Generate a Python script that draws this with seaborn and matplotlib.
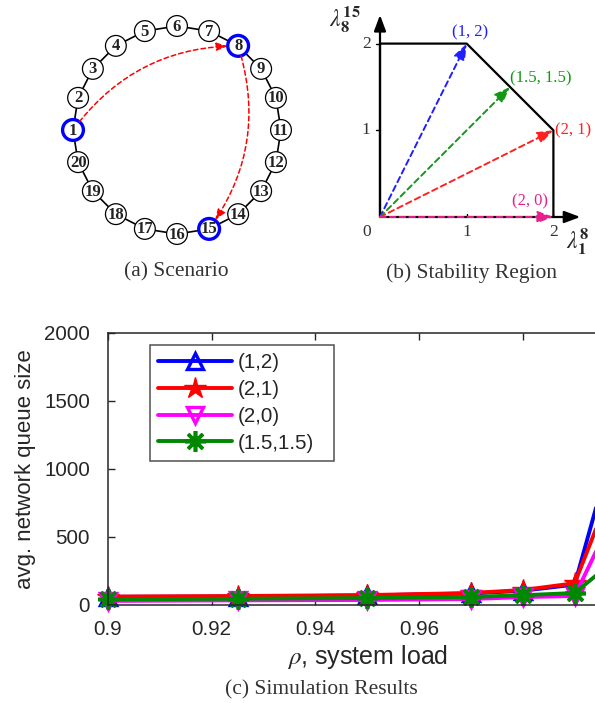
import numpy as np
import pandas as pd
import matplotlib
matplotlib.use('Agg')
import matplotlib.pyplot as plt
import seaborn as sns

# ---- data ----
n_nodes = 20
highlight_nodes = [1, 8, 15]
flow_path = [1, 8, 15]

region_x = [0, 0, 1, 2, 2]
region_y = [0, 2, 2, 1, 0]
rate_labels = ['(1, 2)', '(1.5, 1.5)', '(2, 1)', '(2, 0)']
rate_x = [1, 1.5, 2, 2]
rate_y = [2, 1.5, 1, 0]

rho = [0.9, 0.925, 0.95, 0.97, 0.98, 0.99, 1.0]
q_12 = [60, 62, 70, 85, 105, 150, 1520]
q_21 = [62, 66, 73, 88, 110, 160, 1130]
q_20 = [30, 34, 37, 44, 58, 66, 860]
q_1515 = [42, 46, 51, 59, 72, 88, 400]
series_names = ['(1,2)', '(2,1)', '(2,0)', '(1.5,1.5)']

sns.set_theme(style='white')
plt.rcParams['font.family'] = ['Liberation Sans', 'DejaVu Sans']
plt.rcParams['mathtext.fontset'] = 'stix'

fig = plt.figure(figsize=(5.95, 7.03), dpi=100)
serif = ['Liberation Serif', 'DejaVu Serif']

# ---- (a) scenario ring ----
ax_a = fig.add_axes([40 / 595, 1 - 260 / 703, 275 / 595, 260 / 703])
ax_a.set_xlim(-137 / 104, 138 / 104)
ax_a.set_ylim(-1.25, 1.25)
ax_a.axis('off')
ang = np.deg2rad(180 - 18 * np.arange(n_nodes))
nx, ny = np.cos(ang), np.sin(ang)
ax_a.plot(np.append(nx, nx[0]), np.append(ny, ny[0]), color='black', lw=1.2, zorder=1)
for i in range(n_nodes):
    node = i + 1
    hl = node in highlight_nodes
    c = plt.Circle((nx[i], ny[i]), 0.1, facecolor='white',
                   edgecolor='blue' if hl else 'black', lw=2.4 if hl else 0.9, zorder=2)
    ax_a.add_patch(c)
    ax_a.text(nx[i], ny[i] - 0.005, str(node), ha='center', va='center', fontsize=12,
              fontweight='bold', family=serif, zorder=3, color='#222222')
for s, t in zip(flow_path[:-1], flow_path[1:]):
    ax_a.annotate('', xy=(nx[t - 1], ny[t - 1]), xytext=(nx[s - 1], ny[s - 1]),
                  arrowprops=dict(arrowstyle='-|>,head_length=0.55,head_width=0.2',
                                  connectionstyle='arc3,rad=-0.25', color='red',
                                  ls=(0, (3, 2)), lw=1.1, shrinkA=7.5, shrinkB=7.5),
                  zorder=4)
fig.text(176 / 595, 1 - 272 / 703, '(a) Scenario', ha='center', va='center',
         fontsize=15.5, family=serif, color='#333333')

# ---- (b) stability region ----
u = 86.7
ax_b = fig.add_axes([(380 - 0.6 * u) / 595, (703 - (217 + 0.5 * u)) / 703,
                     3.2 * u / 595, 2.95 * u / 703])
ax_b.set_xlim(-0.6, 2.6)
ax_b.set_ylim(-0.5, 2.45)
ax_b.axis('off')
ax_b.annotate('', xy=(2.31, 0), xytext=(0, 0),
              arrowprops=dict(arrowstyle='-|>,head_length=0.8,head_width=0.3',
                              color='black', lw=1.6, shrinkA=0, shrinkB=0))
ax_b.annotate('', xy=(0, 2.33), xytext=(0, 0),
              arrowprops=dict(arrowstyle='-|>,head_length=0.8,head_width=0.3',
                              color='black', lw=1.6, shrinkA=0, shrinkB=0))
ax_b.plot(region_x, region_y, color='black', lw=1.6)
for v in [1, 2]:
    ax_b.plot([-0.05, 0], [v, v], color='black', lw=1)
    ax_b.plot([v, v], [0, 0.04], color='black', lw=1)
arrow_colors = ['#1f1fff', '#119911', '#ff2020', '#e8208c']
label_pos = [(1.04, 2.13), (1.85, 1.6), (2.23, 1.0), (1.73, 0.18)]
for lab, x, y, c, (lx, ly) in zip(rate_labels, rate_x, rate_y, arrow_colors, label_pos):
    ax_b.annotate('', xy=(x, y), xytext=(0, 0),
                  arrowprops=dict(arrowstyle='-|>,head_length=0.8,head_width=0.3',
                                  color=c, ls=(0, (3, 2)), lw=1.4, shrinkA=0, shrinkB=0))
    ax_b.text(lx, ly, lab, color=c, ha='center', va='center', fontsize=12, family=serif)
for lab, x, y in [('0', -0.15, -0.17), ('1', 1, -0.17), ('2', 2, -0.17),
                  ('1', -0.16, 1), ('2', -0.16, 2)]:
    ax_b.text(x, y, lab, ha='center', va='center', fontsize=12.5, family=serif, color='#333333')
ax_b.text(-0.40, 2.27, r'$\lambda_{\mathbf{8}}^{\mathbf{15}}$', ha='center', va='center', fontsize=17)
ax_b.text(2.28, -0.28, r'$\lambda_{\mathbf{1}}^{\mathbf{8}}$', ha='center', va='center', fontsize=17)
fig.text(471 / 595, 1 - 273 / 703, '(b) Stability Region', ha='center', va='center',
         fontsize=15.5, family=serif, color='#333333')

# ---- (c) simulation results ----
ax = fig.add_axes([108 / 595, (703 - 605) / 703, (626.5 - 108) / 595, 272 / 703])
styles = [
    dict(color='blue', marker='^', mfc='none', mec='blue', ms=12, mew=2.4),
    dict(color='red', marker='*', mfc='red', mec='red', ms=16, mew=1),
    dict(color='magenta', marker='v', mfc='none', mec='magenta', ms=12, mew=2.4),
    dict(color='#008800', marker=(8, 2, 0), mec='#008800', ms=15, mew=2.6),
]
df = pd.DataFrame({'rho': rho, '(1,2)': q_12, '(2,1)': q_21, '(2,0)': q_20, '(1.5,1.5)': q_1515})
for name, st in zip(series_names, styles):
    sns.lineplot(data=df, x='rho', y=name, ax=ax, label=name, lw=2.8, clip_on=False, **st)
ax.set_xlim(0.9, 1.0)
ax.set_ylim(0, 2000)
ax.set_xticks([0.9, 0.92, 0.94, 0.96, 0.98, 1.0])
ax.set_xticklabels(['0.9', '0.92', '0.94', '0.96', '0.98', ''])
ax.set_yticks([0, 500, 1000, 1500, 2000])
ax.tick_params(direction='in', length=5, width=1, labelsize=14.8, colors='#262626',
               top=True, right=True, bottom=True, left=True)
ax.tick_params(axis='x', pad=11)
ax.tick_params(axis='y', pad=13)
for sp in ax.spines.values():
    sp.set_visible(True)
    sp.set_color('#262626')
    sp.set_linewidth(1.1)
ax.set_xlabel(r'$\rho$, system load', fontsize=18, color='#262626', labelpad=3)
ax.set_ylabel('avg. network queue size', fontsize=16, color='#262626', labelpad=6)
leg = ax.legend(loc='upper left', bbox_to_anchor=(0.081, 0.5, (334 - 150) / 518, 0.456),
                mode='expand', borderaxespad=0,
                fontsize=14.8, frameon=True, fancybox=False, edgecolor='#262626',
                handlelength=3.6, handletextpad=0.25, labelspacing=0.38, borderpad=0.4)
leg.get_frame().set_linewidth(1.1)
fig.text(321 / 595, 1 - 690 / 703, '(c) Simulation Results', ha='center', va='center',
         fontsize=15.5, family=serif, color='#333333')

fig.savefig('out.png', dpi=100)
